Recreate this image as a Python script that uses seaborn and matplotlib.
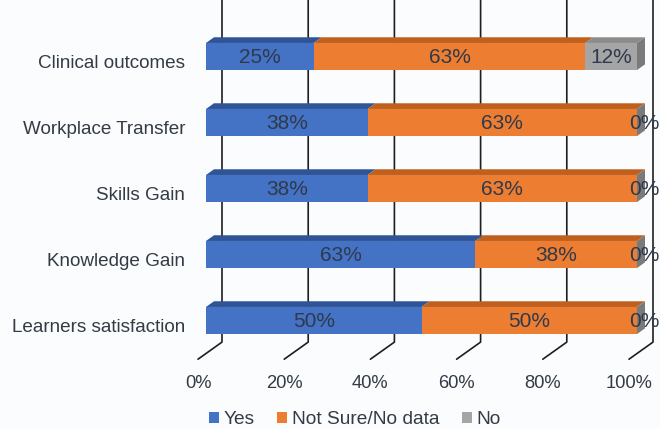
import matplotlib
matplotlib.use("Agg")
import matplotlib.pyplot as plt
from matplotlib.patches import Polygon, Patch
from matplotlib.transforms import ScaledTranslation
import seaborn as sns
import pandas as pd

# data (8 studies -> 12.5% steps)
categories = ["Clinical outcomes", "Workplace Transfer", "Skills Gain",
              "Knowledge Gain", "Learners satisfaction"]
yes = [25, 37.5, 37.5, 62.5, 50]
not_sure = [63, 62.5, 62.5, 37.5, 50]
no = [12, 0, 0, 0, 0]
series_names = ["Yes", "Not Sure/No data", "No"]
x_ticks = [0, 20, 40, 60, 80, 100]

front_colors = ["#4472c4", "#ed7d31", "#a5a5a5"]
top_colors = ["#2f5597", "#c0601e", "#8c8c8c"]
side_color = "#7a7a7a"
text_color = "#333b44"

sns.set_style("white")
plt.rcParams["font.family"] = ["Liberation Sans", "DejaVu Sans"]

fig = plt.figure(figsize=(6.6, 4.29), dpi=100, facecolor="#fbfcfe")
ax = fig.add_axes([206 / 660, 75.5 / 429, 431 / 660, 330 / 429])
ax.set_facecolor("none")

# fake 3d depth, in data units
dx = 8 / 4.31
dy = 5.7 / 66
bar_h = 0.41

df = pd.DataFrame({"cat": categories, "yes": yes, "ns": not_sure, "no": no})
df["c1"] = df["yes"]
df["c2"] = df["yes"] + df["ns"]
df["c3"] = df["c2"] + df["no"]

# gridlines: back wall + floor
for v in x_ticks:
    ax.plot([v + 2 * dx, v + 2 * dx, v - dx], [-1.0, 4.5 - 2 * dy, 4.5 + dy],
            color="#1e1e1e", lw=1.2, clip_on=False, zorder=0)
    ax.text(v - dx, 4.5 + dy + 0.37, f"{v}%", ha="center", va="center",
            fontsize=13.2, color=text_color)

# front faces, stacked by drawing the cumulative bars back to front
for col, c in zip(["c3", "c2", "c1"], front_colors[::-1]):
    sns.barplot(data=df, x=col, y="cat", color=c, width=bar_h, saturation=1,
                orient="h", linewidth=0, ax=ax, zorder=2)

seg_lists = [yes, not_sure, no]
for i in range(len(categories)):
    left = 0
    top = i - bar_h / 2
    for s, vals in enumerate(seg_lists):
        w = vals[i]
        ax.add_patch(Polygon([(left, top), (left + w, top), (left + w + dx, top - dy),
                              (left + dx, top - dy)], closed=True, facecolor=top_colors[s],
                             edgecolor="none", zorder=2, clip_on=False))
        xpos = left + w / 2 if w > 0 else left + dx * 0.9
        ax.text(xpos, i + 0.02, f"{int(w + 0.5)}%", ha="center", va="center",
                fontsize=15, color="#2e3a4b", zorder=4)
        left += w
    ax.add_patch(Polygon([(left, top), (left, top + bar_h), (left + dx, top + bar_h - dy),
                          (left + dx, top - dy)], closed=True, facecolor=side_color,
                         edgecolor="none", zorder=2, clip_on=False))

ax.set_xlim(0, 100)
ax.set_ylim(4.5, -0.5)
ax.set_xticks([])
ax.set_yticks(range(len(categories)), categories, fontsize=13.6, color=text_color)
ax.tick_params(axis="y", length=0, pad=15)
# category labels sit a little below the bar centres
shift = ScaledTranslation(0, -5 / 100, fig.dpi_scale_trans)
for lab in ax.get_yticklabels():
    lab.set_transform(lab.get_transform() + shift)
ax.set_xlabel("")
ax.set_ylabel("")
sns.despine(ax=ax, left=True, bottom=True)

handles = [Patch(facecolor=c, edgecolor="none") for c in front_colors]
fig.legend(handles, series_names, loc="center", bbox_to_anchor=(355 / 660, 1 - 420 / 429),
           ncol=3, frameon=False, fontsize=13.8, handlelength=0.5, handleheight=0.5,
           handletextpad=0.25, columnspacing=1.2, labelcolor=text_color)

fig.savefig("out.png", dpi=100, facecolor=fig.get_facecolor())
